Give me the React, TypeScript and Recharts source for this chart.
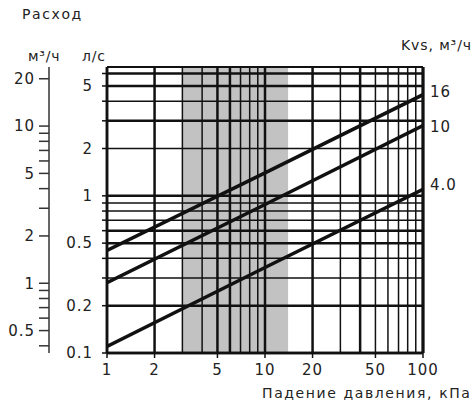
import { LineChart, Line, XAxis, YAxis, ReferenceArea, ReferenceLine } from 'recharts';

// pressure drop, kPa
const DP = [1, 10, 100];
// flow, l/s
const Q_KVS16 = [0.45, 1.4, 4.4];
const Q_KVS10 = [0.28, 0.88, 2.8];
const Q_KVS4 = [0.11, 0.35, 1.1];

const X_TICKS = [1, 2, 5, 10, 20, 50, 100];
const X_GRID = [1, 2, 3, 4, 5, 6, 7, 8, 9, 10, 20, 30, 40, 50, 60, 70, 80, 90, 100];
const X_BOLD = [1, 2, 5, 6, 10, 20, 40, 100];

const LS_DOMAIN = [0.1, 6.6];
const LS_GRID = [0.1, 0.2, 0.3, 0.4, 0.5, 0.6, 0.7, 0.8, 0.9, 1, 2, 3, 4, 5, 6];
const LS_LABELS = [0.1, 0.2, 0.5, 1, 2, 5];
const LS_BOLD = [0.1, 0.2, 0.5, 0.6, 1, 3, 5, 6];

const M3_TICKS = [0.4, 0.5, 0.6, 0.7, 0.8, 0.9, 1, 2, 3, 4, 5, 6, 7, 8, 9, 10, 20];
const M3_LABELS = [0.5, 1, 2, 5, 10, 20];

// Kvs captions on the right, placed at these flows (l/s)
const KVS_AT = [4.6, 2.75, 1.18];
const KVS_TEXT = ['16', '10', '4.0'];

const BAND = [3, 14];

const INK = '#111';
const NUM = { fontSize: 15, fill: '#222', fontFamily: 'DejaVu Sans', letterSpacing: 1 };

const toRows = (q: number[]) => DP.map((dp, i) => ({ dp, q: q[i] }));

const txt = (left: number, top: number, s: string, ls = 1.6) => (
    <div style={{ position: 'absolute', left, top, fontSize: 14, letterSpacing: ls, color: '#222', whiteSpace: 'nowrap', lineHeight: 1 }}>{s}</div>
);

export default function App() {
    return (
        <div style={{ position: 'absolute', left: 0, top: 0, width: 473, height: 407, background: '#fff', fontFamily: 'DejaVu Sans' }}>
            <LineChart width={473} height={407} margin={{ top: 67, right: 0, left: 0, bottom: 0 }}>
                <XAxis dataKey="dp" type="number" scale="log" domain={[1, 100]} ticks={X_TICKS} allowDataOverflow interval={0}
                    tick={NUM} tickSize={5} tickMargin={6} axisLine={{ stroke: INK, strokeWidth: 2.5 }} tickLine={{ stroke: INK, strokeWidth: 1.5 }} height={54} />
                <YAxis yAxisId="ls" type="number" scale="log" domain={LS_DOMAIN} ticks={LS_GRID} allowDataOverflow width={58} interval={0}
                    tick={NUM} tickSize={5} tickMargin={9} tickFormatter={(v: number) => (LS_LABELS.includes(v) ? String(v) : '')}
                    axisLine={{ stroke: INK, strokeWidth: 2.5 }} tickLine={{ stroke: INK, strokeWidth: 1.5 }} />
                <YAxis yAxisId="m3" type="number" scale="log" domain={LS_DOMAIN.map(v => v * 3.6)} ticks={M3_TICKS} allowDataOverflow width={49} interval={0}
                    tick={NUM} tickSize={10} tickMargin={4} tickFormatter={(v: number) => (M3_LABELS.includes(v) ? String(v) : '')}
                    axisLine={{ stroke: '#333', strokeWidth: 1.5 }} tickLine={{ stroke: '#333', strokeWidth: 1.5 }} />
                <YAxis yAxisId="kvs" orientation="right" type="number" scale="log" domain={LS_DOMAIN} ticks={KVS_AT} allowDataOverflow width={50} interval={0}
                    tick={NUM} tickSize={0} tickMargin={7} tickFormatter={(v: number) => KVS_TEXT[KVS_AT.indexOf(v)] ?? ''}
                    axisLine={{ stroke: INK, strokeWidth: 3 }} tickLine={false} />

                <ReferenceArea yAxisId="ls" x1={BAND[0]} x2={BAND[1]} y1={LS_DOMAIN[0]} y2={LS_DOMAIN[1]} fill="#c2c2c2" fillOpacity={1} stroke="none" />
                {X_GRID.map(x => (
                    <ReferenceLine key={'x' + x} yAxisId="ls" x={x} stroke={INK} strokeWidth={X_BOLD.includes(x) ? 2.5 : 1.5} />
                ))}
                {LS_GRID.map(y => (
                    <ReferenceLine key={'y' + y} yAxisId="ls" y={y} stroke={INK} strokeWidth={LS_BOLD.includes(y) ? 2.5 : 1.5} />
                ))}
                <ReferenceLine yAxisId="ls" y={LS_DOMAIN[1]} stroke={INK} strokeWidth={2} />

                <Line yAxisId="ls" data={toRows(Q_KVS16)} dataKey="q" stroke={INK} strokeWidth={3.5} dot={false} isAnimationActive={false} />
                <Line yAxisId="ls" data={toRows(Q_KVS10)} dataKey="q" stroke={INK} strokeWidth={3.5} dot={false} isAnimationActive={false} />
                <Line yAxisId="ls" data={toRows(Q_KVS4)} dataKey="q" stroke={INK} strokeWidth={3.5} dot={false} isAnimationActive={false} />
            </LineChart>
            {txt(22, 7, 'Расход')}
            {txt(28, 49, 'м³/ч', 0.8)}
            {txt(82, 49, 'л/с', 0.8)}
            {txt(401, 38, 'Kvs, м³/ч', 0.9)}
            {txt(262, 386, 'Падение давления, кПа')}
        </div>
    );
}
